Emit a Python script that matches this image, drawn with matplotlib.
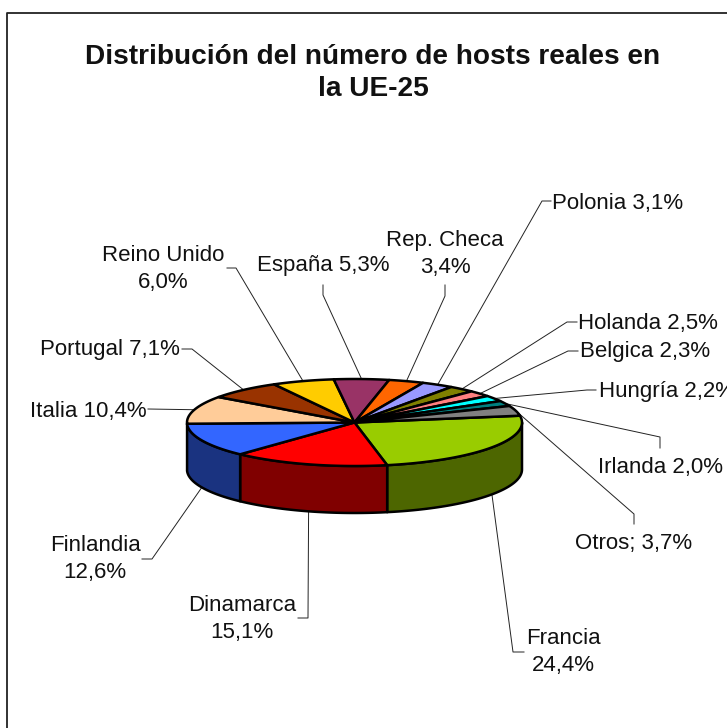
import matplotlib
matplotlib.use('Agg')
import matplotlib.pyplot as plt
import numpy as np

paises = ['Francia', 'Dinamarca', 'Finlandia', 'Italia', 'Portugal', 'Reino Unido', 'España',
          'Rep. Checa', 'Polonia', 'Holanda', 'Belgica', 'Hungría', 'Irlanda', 'Otros']
valores = [24.4, 15.1, 12.6, 10.4, 7.1, 6.0, 5.3, 3.4, 3.1, 2.5, 2.3, 2.2, 2.0, 3.7]
etiquetas = ['Francia\n24,4%', 'Dinamarca\n15,1%', 'Finlandia\n12,6%', 'Italia 10,4%', 'Portugal 7,1%',
             'Reino Unido\n6,0%', 'España 5,3%', 'Rep. Checa\n3,4%', 'Polonia 3,1%', 'Holanda 2,5%',
             'Belgica 2,3%', 'Hungría 2,2%', 'Irlanda 2,0%', 'Otros; 3,7%']
colores = ['#99CC00', '#FF0000', '#3366FF', '#FFCC99', '#993300', '#FFCC00', '#993366',
           '#FF6600', '#9999FF', '#808000', '#FF8080', '#00FFFF', '#008080', '#808080']
colores_lado = ['#4D6600', '#800000', '#1A3380']

# geometry of the pie, in pixels
cx, cy = 354.5, 422.5
a, b = 167.5, 43.5
alto = 47
inicio = 9.0

# text centre, elbow and end of each leader line
texto_pos = [(563, 652), (242, 619), (95, 559), (88, 412), (110, 350),
             (163, 269), (323, 266), (445, 254), (618, 204), (648, 323),
             (645, 352), (667, 392), (660, 467), (634, 543)]
codo = [(513, 652), (308, 618), (152, 559), (148, 409), (192, 349),
        (236, 268), (323, 295), (445, 296), (542, 201), (567, 322),
        (568, 351), (587, 390), (660, 437), (634, 514)]
fin = [(524, 652), (298, 618), (142, 559), (148, 409), (182, 349),
       (227, 268), (323, 285), (445, 285), (551, 201), (577, 322),
       (578, 351), (596, 390), (660, 448), (634, 524)]

plt.rcParams['font.family'] = ['Liberation Sans', 'DejaVu Sans']

fig = plt.figure(figsize=(7.27, 7.28), dpi=100)
ax = fig.add_axes([0, 0, 1, 1])
ax.set_xlim(0, 727)
ax.set_ylim(728, 0)
ax.axis('off')

# chart border, only top and left fall inside the picture
ax.plot([7, 7, 727], [728, 12.5, 12.5], color='#222222', lw=1.3)


def elipse(t, dy=0):
    t = np.radians(t)
    return cx + a * np.cos(t), cy - b * np.sin(t) + dy


total = sum(valores)
bordes = inicio - np.cumsum([0] + valores) * 360 / total

# sides first, only the part that faces us
for i in range(len(colores_lado)):
    t1 = min(bordes[i], 0)
    t2 = max(bordes[i + 1], -180)
    t = np.linspace(t1, t2, 60)
    x, y = elipse(t)
    x2, y2 = elipse(t[::-1], alto)
    ax.fill(np.r_[x, x2], np.r_[y, y2], fc=colores_lado[i], ec='black', lw=1.8, joinstyle='round', zorder=3)

for i in range(len(valores)):
    t = np.linspace(bordes[i], bordes[i + 1], 60)
    x, y = elipse(t)
    ax.fill(np.r_[cx, x], np.r_[cy, y], fc=colores[i], ec='black', lw=1.8, joinstyle='round', zorder=3)

# leader lines start on the rim at the middle of the slice
for i in range(len(valores)):
    medio = (bordes[i] + bordes[i + 1]) / 2
    x0, y0 = elipse(medio, alto if -180 < medio < 0 else 0)
    ax.plot([x0, codo[i][0], fin[i][0]], [y0, codo[i][1], fin[i][1]], color='#222222', lw=0.7, zorder=1)
    ax.text(texto_pos[i][0], texto_pos[i][1], etiquetas[i], ha='center', va='center', fontsize=16,
            linespacing=1.32, color='#111111', clip_on=True)

ax.text(373, 73, 'Distribución del número de hosts reales en\nla UE-25', ha='center', va='center',
        fontsize=20.2, fontweight='bold', linespacing=1.33, color='#111111')

fig.savefig('out.png', dpi=100)
